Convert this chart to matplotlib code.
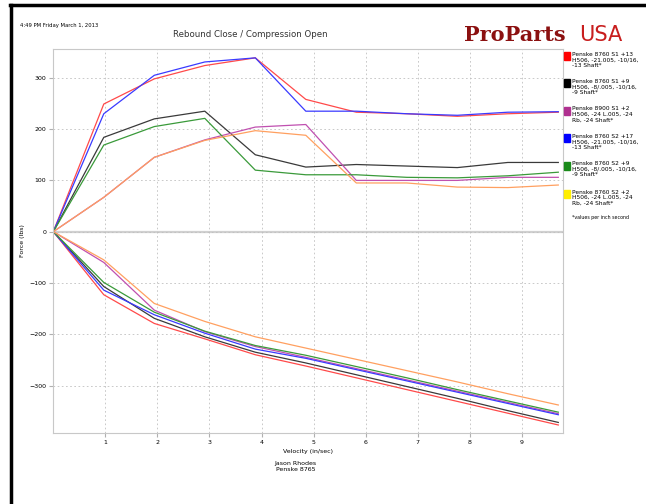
import numpy as np
import matplotlib
matplotlib.use('Agg')
import matplotlib.pyplot as plt
from matplotlib.lines import Line2D
from matplotlib.patches import Rectangle

# velocity knots (in/sec)
velocity = [0, 0.97, 1.94, 2.91, 3.88, 4.85, 5.82, 6.79, 7.76, 8.73, 9.7]

# rebound side (positive force, lbs)
reb_red = [0, 249, 298, 324, 339, 258, 233, 230, 225, 230, 233]
reb_black = [0, 184, 220, 235, 150, 126, 131, 128, 125, 135, 135]
reb_magenta = [0, 67, 145, 179, 204, 209, 100, 100, 100, 106, 106]
reb_blue = [0, 230, 305, 331, 339, 235, 235, 230, 227, 233, 234]
reb_green = [0, 169, 205, 221, 120, 111, 111, 106, 105, 109, 116]
reb_orange = [0, 67, 145, 178, 197, 188, 95, 95, 87, 86, 91]

# compression side (negative force, lbs)
comp_red = [0, -123, -179, -209, -240, -262, -285, -308, -331, -354, -377]
comp_black = [0, -107, -169, -205, -235, -256, -279, -302, -325, -349, -372]
comp_magenta = [0, -60, -153, -195, -224, -245, -267, -289, -311, -333, -355]
comp_blue = [0, -114, -162, -198, -229, -247, -269, -291, -313, -335, -357]
comp_green = [0, -99, -157, -194, -222, -241, -263, -285, -308, -330, -352]
comp_orange = [0, -55, -140, -175, -205, -227, -249, -271, -293, -316, -338]

series_colors = ['#ff4a4a', '#3a3a3a', '#c050b0', '#3a3aff', '#3a9a3a', '#ffa060']
legend_swatch = ['#ff0000', '#000000', '#b03090', '#0000ff', '#1a8a1a', '#ffee00']
legend_labels = [
    "Penske 8760 S1 +13\nH506, -21.005, -10/16,\n-13 Shaft*",
    "Penske 8760 S1 +9\nH506, -8/.005, -10/16,\n-9 Shaft*",
    "Penske 8900 S1 +2\nH506, -24 L.005, -24\nRb, -24 Shaft*",
    "Penske 8760 S2 +17\nH506, -21.005, -10/16,\n-13 Shaft*",
    "Penske 8760 S2 +9\nH506, -8/.005, -10/16,\n-9 Shaft*",
    "Penske 8760 S2 +2\nH506, -24 L.005, -24\nRb, -24 Shaft*",
]

rebound = [reb_red, reb_black, reb_magenta, reb_blue, reb_green, reb_orange]
compression = [comp_red, comp_black, comp_magenta, comp_blue, comp_green, comp_orange]

fig = plt.figure(figsize=(6.46, 5.04), dpi=100)
ax = fig.add_axes([0.0825, 0.1415, 0.789, 0.761])

for reb, comp, c in zip(rebound, compression, series_colors):
    ax.plot(velocity, reb, color=c, lw=0.9)
    ax.plot(velocity, comp, color=c, lw=0.9)

ax.axhline(0, color='#d0d0d0', lw=1.6, zorder=0)
ax.set_xlim(0, 9.79)
ax.set_ylim(-392, 356)
ax.set_xticks(range(1, 10))
ax.set_yticks([-300, -200, -100, 0, 100, 200, 300])
ax.grid(True, color='#c0c0c0', linestyle=(0, (2, 3)), lw=0.6)
ax.tick_params(labelsize=4.5, length=3, color='#b0b0b0', pad=2)
for s in ax.spines.values():
    s.set_color('#c8c8c8')
ax.set_xlabel('Velocity (in/sec)', fontsize=4.5, labelpad=3)
ax.set_ylabel('Force (lbs)', fontsize=4.5, labelpad=3)

# header / footer texts
fig.text(0.031, 0.947, '4:49 PM Friday March 1, 2013', fontsize=3.8)
fig.text(0.387, 0.926, 'Rebound Close / Compression Open', fontsize=6.2,
         ha='center', color='#333333')
fig.text(0.718, 0.918, 'ProParts', fontsize=15, fontweight='bold',
         color='#8b1010', family='DejaVu Serif')
fig.text(0.897, 0.918, 'USA', fontsize=15, color='#c81e1e')
fig.text(0.458, 0.066, 'Jason Rhodes\nPenske 8765', fontsize=4.5,
         ha='center', linespacing=1.1)

# legend drawn at the right of the plot
ys = [0.890, 0.837, 0.782, 0.728, 0.673, 0.617]
for y, sw, lab in zip(ys, legend_swatch, legend_labels):
    fig.patches.append(Rectangle((0.873, y - 0.010), 0.010, 0.016,
                                 transform=fig.transFigure, color=sw))
    fig.text(0.885, y + 0.007, lab, fontsize=4.2, va='top', linespacing=1.15)
fig.text(0.885, 0.566, '*values per inch second', fontsize=3.4)

# black frame lines at top and left
fig.add_artist(Line2D([0.016, 1.0], [0.99, 0.99], color='black', lw=2.5,
                      transform=fig.transFigure))
fig.add_artist(Line2D([0.017, 0.017], [0.0, 0.99], color='black', lw=2.5,
                      transform=fig.transFigure))

fig.savefig('out.png', dpi=100)
